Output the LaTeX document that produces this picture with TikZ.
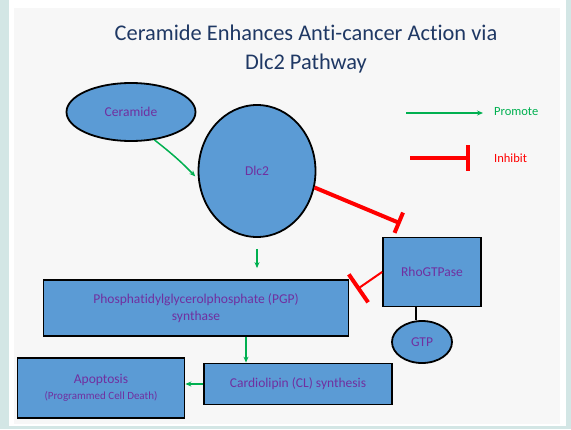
\documentclass[tikz,border=0pt]{standalone}
\usepackage{fontspec}
\setmainfont{Carlito}[Ligatures=NoCommon]
\usepackage{xcolor}
\usetikzlibrary{shapes, arrows.meta, positioning, calc}

\definecolor{frameteal}{HTML}{D3E6E5}
\definecolor{panelgray}{HTML}{F7F7F7}
\definecolor{cellblue}{HTML}{5B9BD5}
\definecolor{labelpurple}{HTML}{7030A0}
\definecolor{titlenavy}{HTML}{1F3864}
\definecolor{pgreen}{HTML}{00B050}
\definecolor{ired}{HTML}{FF0000}

\begin{document}
\begin{tikzpicture}[
  x=1pt, y=-1pt,
  box/.style={rectangle, draw=black, line width=1.8pt, fill=cellblue, text=labelpurple, align=center, inner sep=0pt, font=\fontsize{13.5}{17}\selectfont},
  blob/.style={ellipse, draw=black, line width=1.8pt, fill=cellblue, text=labelpurple, inner sep=0pt, font=\fontsize{13.5}{17}\selectfont},
  promote/.style={draw=pgreen, line width=1.5pt, -{Stealth[length=6pt, width=5pt]}},
  inhibit/.style={draw=ired, line width=4pt, -{Bar[width=22pt, line width=4pt]}},
  legendtxt/.style={anchor=west, inner sep=0pt, font=\fontsize{12.5}{14}\selectfont},
]
  \useasboundingbox (0,0) rectangle (571,429);

  % frame and panel
  \fill[frameteal] (0,0) rectangle (571,429);
  \fill[white] (9,0) rectangle (566,426);
  \fill[panelgray] (14,8) rectangle (560,424);

  % title
  \node[text=titlenavy, align=center, font=\fontsize{22.4}{29}\selectfont] (title) at (306,49.5)
    {Ceramide Enhances Anti-cancer Action via\\Dlc2 Pathway};

  % pathway
  \node[blob, minimum width=129pt, minimum height=58pt] (cer) at (131,112) {Ceramide};
  \node[blob, minimum width=117pt, minimum height=132pt] (dlc) at (257,171) {Dlc2};
  \node[box, minimum width=98pt, minimum height=69pt] (rho) at (432,272) {RhoGTPase};
  \node[blob, minimum width=60pt, minimum height=42pt] (gtp) at (422,342) {GTP};
  \node[box, minimum width=305pt, minimum height=56pt] (pgp) at (196,308)
    {Phosphatidylglycerolphosphate (PGP)\\synthase};
  \node[box, minimum width=188pt, minimum height=41pt] (cl) at (298,384) {Cardiolipin (CL) synthesis};
  \node[box, minimum width=167pt, minimum height=60pt] (apo) at (101,388)
    {Apoptosis\\[-1pt]{\fontsize{11}{12}\selectfont(Programmed Cell Death)}};

  \draw[promote, shorten >=4pt] (cer.-50) to[bend left=4] (dlc.188);
  \draw[inhibit, shorten >=34pt] (dlc.-16) -- (rho.north);
  \draw[promote, shorten <=11pt, shorten >=11pt] (dlc.south) -- (dlc.south |- pgp.north);
  \draw[ired, line width=2pt, -{Bar[width=34pt, line width=4pt]}, shorten >=9pt] (rho.west) -- (pgp.5);
  \draw[black, line width=1.8pt] ([xshift=-16pt]rho.south) -- ([xshift=-16pt]rho.south |- gtp.north);
  \draw[promote] ([xshift=50pt]pgp.south) -- ([xshift=50pt]pgp.south |- cl.north);
  \draw[promote] (cl.west) -- (cl.west -| apo.east);

  % legend
  \node[legendtxt, text=pgreen] (promkey) at (494,112) {Promote};
  \node[legendtxt, text=ired] (inhkey) at (494,158) {Inhibit};
  \coordinate (promfrom) at (406,113);
  \coordinate (inhfrom) at (410,158);
  \draw[promote] (promfrom) -- ([xshift=-11pt]promkey.west |- promfrom);
  \draw[inhibit, -{Bar[width=26pt, line width=4pt]}] (inhfrom) -- ([xshift=-24pt]inhkey.west |- inhfrom);
\end{tikzpicture}
\end{document}
